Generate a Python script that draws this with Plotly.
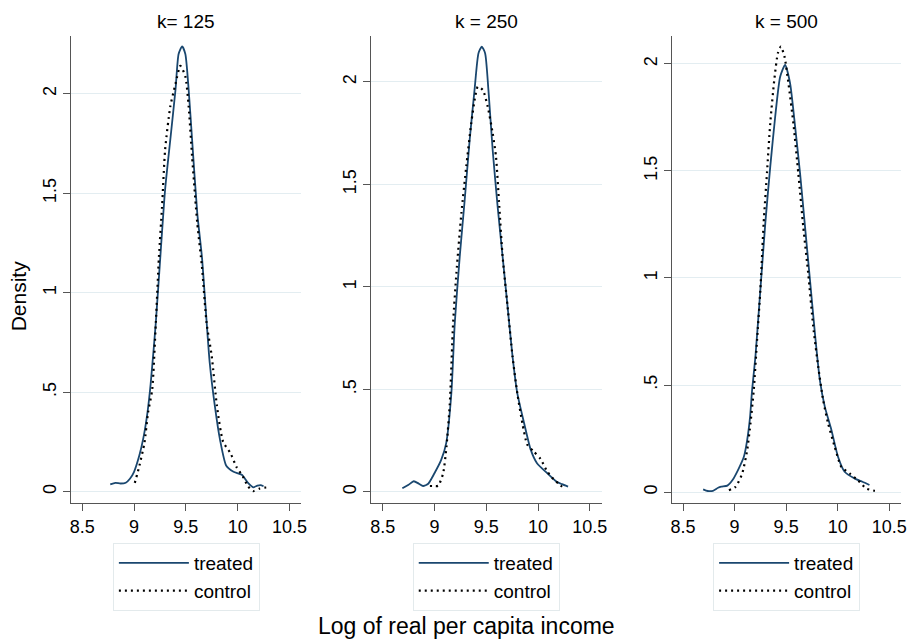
import plotly.graph_objects as go

# ---- data ----
panel_titles = ["k= 125", "k = 250", "k = 500"]
series_names = ["treated", "control"]
x_tickvals = [8.5, 9, 9.5, 10, 10.5]
x_ticktext = ["8.5", "9", "9.5", "10", "10.5"]
y_tickvals = [0, 0.5, 1, 1.5, 2]
y_ticktext = ["0", ".5", "1", "1.5", "2"]

t1_x = [8.77, 8.82, 8.87, 8.92, 8.96, 9.00, 9.05, 9.09, 9.13, 9.16, 9.21, 9.26, 9.30, 9.35, 9.40,
        9.43, 9.464, 9.495, 9.527, 9.56, 9.61, 9.655, 9.69, 9.73, 9.78, 9.83, 9.89, 9.96, 10.04,
        10.10, 10.15, 10.19, 10.22, 10.25]
t1_y = [0.037, 0.044, 0.041, 0.045, 0.065, 0.10, 0.18, 0.27, 0.40, 0.54, 0.85, 1.23, 1.52, 1.77, 2.02,
        2.20, 2.238, 2.20, 2.02, 1.77, 1.40, 1.18, 0.93, 0.65, 0.43, 0.26, 0.13, 0.10, 0.085,
        0.044, 0.022, 0.03, 0.033, 0.027]
c1_x = [9.007, 9.05, 9.10, 9.135, 9.175, 9.21, 9.24, 9.27, 9.30, 9.35, 9.40, 9.447, 9.495, 9.527,
        9.56, 9.61, 9.655, 9.70, 9.75, 9.80, 9.86, 9.93, 9.99, 10.05, 10.10, 10.15, 10.21, 10.26, 10.31]
c1_y = [0.044, 0.127, 0.245, 0.397, 0.513, 0.848, 1.18, 1.43, 1.72, 1.936, 2.05, 2.14, 2.087, 1.936,
        1.685, 1.35, 1.132, 0.848, 0.68, 0.43, 0.25, 0.194, 0.123, 0.077, 0.027, 0.003, 0.015, 0.02, 0.022]

t2_x = [8.69, 8.75, 8.80, 8.85, 8.89, 8.94, 9.00, 9.065, 9.113, 9.163, 9.196, 9.244, 9.292, 9.34,
        9.387, 9.425, 9.457, 9.489, 9.521, 9.562, 9.61, 9.658, 9.706, 9.754, 9.80, 9.866, 9.93,
        9.99, 10.09, 10.18, 10.23, 10.29]
t2_y = [0.018, 0.035, 0.052, 0.04, 0.029, 0.04, 0.091, 0.156, 0.237, 0.48, 0.823, 1.148, 1.424, 1.717,
        1.961, 2.14, 2.172, 2.14, 1.961, 1.668, 1.392, 1.148, 0.904, 0.66, 0.481, 0.335, 0.205,
        0.14, 0.091, 0.05, 0.038, 0.026]
c2_x = [8.956, 9.0, 9.036, 9.084, 9.116, 9.148, 9.18, 9.212, 9.26, 9.307, 9.355, 9.393, 9.419,
        9.467, 9.514, 9.562, 9.594, 9.626, 9.658, 9.706, 9.754, 9.80, 9.849, 9.897, 9.96, 10.025,
        10.089, 10.153, 10.20, 10.248]
c2_y = [0.029, 0.029, 0.03, 0.091, 0.221, 0.43, 0.823, 1.067, 1.36, 1.587, 1.798, 1.928, 1.977,
        1.961, 1.88, 1.75, 1.636, 1.392, 1.148, 0.904, 0.66, 0.481, 0.335, 0.23, 0.197, 0.16,
        0.1, 0.06, 0.04, 0.018]

t3_x = [8.695, 8.74, 8.79, 8.84, 8.87, 8.93, 8.98, 9.04, 9.09, 9.122, 9.15, 9.17, 9.202, 9.25,
        9.298, 9.346, 9.394, 9.442, 9.49, 9.538, 9.587, 9.635, 9.683, 9.731, 9.779, 9.827, 9.875,
        9.939, 10.003, 10.067, 10.163, 10.24, 10.308]
t3_y = [0.013, 0.005, 0.006, 0.02, 0.025, 0.03, 0.056, 0.11, 0.165, 0.243, 0.35, 0.477, 0.632, 0.944,
        1.256, 1.52, 1.754, 1.94, 1.995, 1.91, 1.707, 1.489, 1.24, 0.991, 0.742, 0.523, 0.399,
        0.29, 0.165, 0.095, 0.064, 0.048, 0.033]
c3_x = [8.945, 9.01, 9.074, 9.122, 9.154, 9.186, 9.218, 9.25, 9.282, 9.314, 9.346, 9.385, 9.42,
        9.449, 9.484, 9.522, 9.57, 9.618, 9.666, 9.714, 9.763, 9.811, 9.859, 9.907, 9.971, 10.035,
        10.115, 10.195, 10.276, 10.356, 10.40]
c3_y = [0.009, 0.025, 0.087, 0.196, 0.321, 0.477, 0.71, 0.944, 1.256, 1.489, 1.723, 1.925, 2.05,
        2.081, 2.034, 1.91, 1.723, 1.489, 1.24, 1.022, 0.772, 0.586, 0.43, 0.321, 0.212, 0.118,
        0.087, 0.056, 0.017, 0.006, 0.003]

treated = [(t1_x, t1_y), (t2_x, t2_y), (t3_x, t3_y)]
control = [(c1_x, c1_y), (c2_x, c2_y), (c3_x, c3_y)]

# ---- layout constants ----
W, H = 918, 641
FONT = "Liberation Sans, Arial, sans-serif"
x_domains = [(70, 302), (372, 605), (676, 907)]
y_dom = [(H - 503) / H, (H - 36) / H]
x_ranges = [[8.395, 10.615], [8.385, 10.615], [8.394, 10.615]]
y_ranges = [[-0.057, 2.29], [-0.054, 2.224], [-0.051, 2.13]]
legend_names = ["legend", "legend2", "legend3"]

fig = go.Figure()
for i in range(3):
    sfx = "" if i == 0 else str(i + 1)
    tx, ty = treated[i]
    cx, cy = control[i]
    fig.add_trace(go.Scatter(x=tx, y=ty, mode="lines", name=series_names[0],
                             line=dict(color="#1a476f", width=1.8, shape="spline", smoothing=0.6),
                             xaxis="x" + sfx, yaxis="y" + sfx, legend=legend_names[i]))
    fig.add_trace(go.Scatter(x=cx, y=cy, mode="lines", name=series_names[1],
                             line=dict(color="black", width=2.2, dash="2px,4px", shape="spline", smoothing=0.6),
                             xaxis="x" + sfx, yaxis="y" + sfx, legend=legend_names[i]))

layout = dict(width=W, height=H, margin=dict(l=0, r=0, t=0, b=0),
              paper_bgcolor="white", plot_bgcolor="white",
              font=dict(family=FONT, color="black", size=17), annotations=[])
for i in range(3):
    sfx = "" if i == 0 else str(i + 1)
    x0, x1 = x_domains[i]
    layout["xaxis" + sfx] = dict(domain=[x0 / W, x1 / W], range=x_ranges[i], anchor="y" + sfx,
                                 tickvals=x_tickvals, ticktext=x_ticktext, ticks="outside", ticklen=7,
                                 tickcolor="#555", showline=True, linecolor="#555", linewidth=1,
                                 showgrid=False, zeroline=False, tickfont=dict(size=18))
    layout["yaxis" + sfx] = dict(domain=y_dom, range=y_ranges[i], anchor="x" + sfx,
                                 tickvals=y_tickvals, ticktext=y_ticktext, ticks="outside", ticklen=7,
                                 tickcolor="#555", showline=True, linecolor="#555", linewidth=1,
                                 showgrid=True, gridcolor="#e3edf1", gridwidth=1.3, zeroline=False,
                                 tickangle=-90, tickfont=dict(size=18))
    cxp = (x0 + x1) / 2 / W
    layout[legend_names[i]] = dict(x=cxp, xanchor="center", y=(H - 543) / H, yanchor="top",
                                   bordercolor="#e3eaec", borderwidth=1, bgcolor="white",
                                   font=dict(size=19), itemwidth=70, traceorder="normal",
                                   tracegroupgap=0)
    layout["annotations"].append(dict(text=panel_titles[i], x=cxp, y=(H - 21) / H, xref="paper",
                                      yref="paper", showarrow=False, font=dict(size=19),
                                      xanchor="center", yanchor="middle"))

layout["annotations"].append(dict(text="Density", x=16.5 / W, y=(H - 296) / H, xref="paper",
                                  yref="paper", showarrow=False, textangle=-90,
                                  font=dict(size=21), xanchor="center", yanchor="middle"))
layout["annotations"].append(dict(text="Log of real per capita income", x=469 / W, y=(H - 626) / H,
                                  xref="paper", yref="paper", showarrow=False,
                                  font=dict(size=23), xanchor="center", yanchor="middle"))
fig.update_layout(**layout)
fig.write_html("out.html")
